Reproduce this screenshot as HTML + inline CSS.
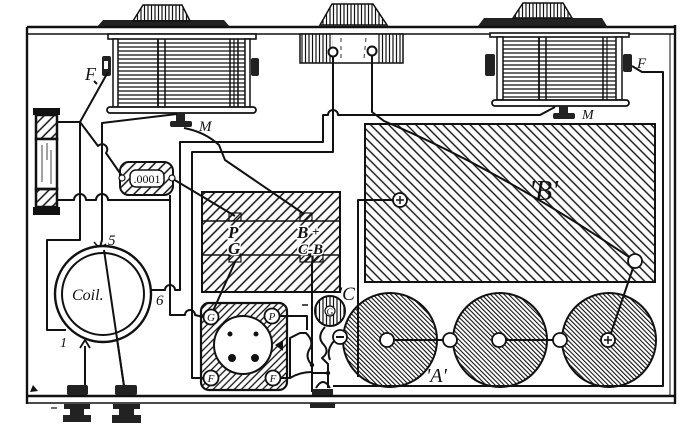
<!DOCTYPE html>
<html><head><meta charset="utf-8"><style>
html,body{margin:0;padding:0;background:#fff;}
svg{display:block;}
text{font-family:"Liberation Serif",serif;font-style:italic;fill:#111;}
</style></head><body>
<svg width="700" height="424" viewBox="0 0 700 424" xmlns="http://www.w3.org/2000/svg">
<defs>
<pattern id="hb" patternUnits="userSpaceOnUse" width="6.4" height="6.4" patternTransform="rotate(-45)"><line x1="1" y1="0" x2="1" y2="6.4" stroke="#111" stroke-width="1.4"/></pattern>
<pattern id="ha" patternUnits="userSpaceOnUse" width="3.2" height="3.2" patternTransform="rotate(-45)"><line x1="1" y1="0" x2="1" y2="3.2" stroke="#111" stroke-width="1.1"/></pattern>
<pattern id="hf" patternUnits="userSpaceOnUse" width="7" height="7" patternTransform="rotate(45)"><line x1="1" y1="0" x2="1" y2="7" stroke="#111" stroke-width="1.5"/></pattern>
<pattern id="hs" patternUnits="userSpaceOnUse" width="5" height="5" patternTransform="rotate(45)"><line x1="1" y1="0" x2="1" y2="5" stroke="#111" stroke-width="1.3"/></pattern>
<pattern id="hv" patternUnits="userSpaceOnUse" width="3.5" height="10"><line x1="1" y1="0" x2="1" y2="10" stroke="#111" stroke-width="1.2"/></pattern>
</defs>

<!-- top knobs -->
<polygon points="97,27 103,20 224,20 230,27" fill="#222"/>
<polygon points="133,21 143,5 182,5 190,21" fill="url(#hv)" stroke="#111" stroke-width="1.5"/>
<polygon points="320,25 332,4 373,4 387,25" fill="url(#hv)" stroke="#111" stroke-width="1.5"/>
<polygon points="478,26 484,18 602,18 607,26" fill="#222"/>
<polygon points="513,18 523,3 563,3 572,18" fill="url(#hv)" stroke="#111" stroke-width="1.5"/>

<!-- outer box -->
<g stroke="#111" fill="none">
<line x1="27" y1="27" x2="676" y2="27" stroke-width="2.4"/>
<line x1="27" y1="34" x2="676" y2="34" stroke-width="1.6"/>
<line x1="27" y1="27" x2="27" y2="404" stroke-width="2.4"/>
<line x1="675" y1="25" x2="675" y2="404" stroke-width="2.4"/>
<line x1="670" y1="34" x2="670" y2="396" stroke-width="1"/>
<line x1="27" y1="396" x2="676" y2="396" stroke-width="2.4"/>
<line x1="27" y1="403" x2="676" y2="403" stroke-width="1.6"/>
</g>

<!-- jack top center -->
<rect x="300" y="34" width="103" height="29" fill="#fff" stroke="#111" stroke-width="1.5"/>
<rect x="300" y="34" width="33" height="29" fill="url(#hv)"/>
<rect x="378" y="34" width="25" height="29" fill="url(#hv)"/>
<line x1="341" y1="38" x2="341" y2="58" stroke="#333" stroke-width="1" stroke-dasharray="4,4"/>
<line x1="366" y1="38" x2="364" y2="58" stroke="#333" stroke-width="1" stroke-dasharray="4,4"/>

<!-- left condenser -->
<g stroke="#111">
<rect x="108" y="34" width="148" height="5" fill="#fff" stroke-width="1.6"/>
<rect x="113" y="39" width="5" height="69" fill="#fff" stroke-width="1.5"/>
<rect x="245" y="39" width="5" height="69" fill="#fff" stroke-width="1.5"/>
<g stroke-width="1.2">
<line x1="118" y1="43" x2="245" y2="43"/><line x1="118" y1="47" x2="245" y2="47"/><line x1="118" y1="51" x2="245" y2="51"/><line x1="118" y1="55" x2="245" y2="55"/><line x1="118" y1="59" x2="245" y2="59"/><line x1="118" y1="63" x2="245" y2="63"/><line x1="118" y1="67" x2="245" y2="67"/><line x1="118" y1="71" x2="245" y2="71"/><line x1="118" y1="75" x2="245" y2="75"/><line x1="118" y1="79" x2="245" y2="79"/><line x1="118" y1="83" x2="245" y2="83"/><line x1="118" y1="87" x2="245" y2="87"/><line x1="118" y1="91" x2="245" y2="91"/><line x1="118" y1="95" x2="245" y2="95"/><line x1="118" y1="99" x2="245" y2="99"/><line x1="118" y1="103" x2="245" y2="103"/>
</g>
<line x1="158" y1="39" x2="158" y2="107" stroke-width="1.8"/>
<line x1="165" y1="39" x2="165" y2="107" stroke-width="1.5"/>
<line x1="230" y1="39" x2="230" y2="107" stroke-width="1.5"/>
<line x1="234" y1="39" x2="234" y2="107" stroke-width="1.2"/>
<line x1="238" y1="39" x2="238" y2="107" stroke-width="1.5"/>
<rect x="107" y="107" width="149" height="6" rx="3" fill="#fff" stroke-width="1.8"/>
</g>
<rect x="102" y="56" width="9" height="20" rx="2" fill="#222"/>
<rect x="104" y="61" width="4" height="8" fill="#fff"/>
<rect x="251" y="58" width="8" height="18" rx="2" fill="#222"/>
<rect x="176" y="113" width="9" height="8" fill="#222"/>
<rect x="170" y="121" width="22" height="6" rx="2" fill="#222"/>

<!-- right condenser -->
<g stroke="#111">
<rect x="490" y="33" width="139" height="4" fill="#fff" stroke-width="1.6"/>
<rect x="497" y="37" width="6" height="63" fill="#fff" stroke-width="1.5"/>
<rect x="616" y="37" width="6" height="63" fill="#fff" stroke-width="1.5"/>
<g stroke-width="1.2">
<line x1="503" y1="41" x2="616" y2="41"/><line x1="503" y1="45" x2="616" y2="45"/><line x1="503" y1="49" x2="616" y2="49"/><line x1="503" y1="53" x2="616" y2="53"/><line x1="503" y1="57" x2="616" y2="57"/><line x1="503" y1="61" x2="616" y2="61"/><line x1="503" y1="65" x2="616" y2="65"/><line x1="503" y1="69" x2="616" y2="69"/><line x1="503" y1="73" x2="616" y2="73"/><line x1="503" y1="77" x2="616" y2="77"/><line x1="503" y1="81" x2="616" y2="81"/><line x1="503" y1="85" x2="616" y2="85"/><line x1="503" y1="89" x2="616" y2="89"/><line x1="503" y1="93" x2="616" y2="93"/><line x1="503" y1="97" x2="616" y2="97"/>
</g>
<line x1="539" y1="37" x2="539" y2="100" stroke-width="1.8"/>
<line x1="546" y1="37" x2="546" y2="100" stroke-width="1.5"/>
<line x1="603" y1="37" x2="603" y2="100" stroke-width="1.5"/>
<line x1="607" y1="37" x2="607" y2="100" stroke-width="1.2"/>
<rect x="492" y="100" width="137" height="6" rx="3" fill="#fff" stroke-width="1.8"/>
</g>
<rect x="485" y="54" width="10" height="22" rx="2" fill="#222"/>
<rect x="623" y="54" width="9" height="18" rx="2" fill="#222"/>
<rect x="559" y="106" width="9" height="7" fill="#222"/>
<rect x="553" y="113" width="22" height="6" rx="2" fill="#222"/>

<!-- B battery -->
<rect x="365" y="124" width="290" height="158" fill="url(#hb)" stroke="#111" stroke-width="2"/>

<!-- transformer block -->
<rect x="202" y="192" width="138" height="100" fill="url(#hf)" stroke="#111" stroke-width="2"/>
<line x1="202" y1="221" x2="340" y2="221" stroke="#111" stroke-width="1.6"/>
<line x1="202" y1="255" x2="340" y2="255" stroke="#111" stroke-width="1.6"/>

<!-- A cells -->
<g stroke="#111" stroke-width="2">
<circle cx="390" cy="340" r="47" fill="url(#ha)"/>
<circle cx="500" cy="340" r="47" fill="url(#ha)"/>
<circle cx="609" cy="340" r="47" fill="url(#ha)"/>
</g>

<!-- wires -->
<g stroke="#111" stroke-width="2" fill="none" stroke-linejoin="round">
<path d="M108,72 L80,122"/>
<path d="M58,122 L80,122 L80,240 L47,240 L47,330 L66,330"/>
<path d="M80,122 L98,146 A5,5 0 0 1 106,153 L122,176"/>
<path d="M177,114 L102,123 L102,240 L100,247"/>
<path d="M58,200 L74,200 A6,6 0 0 1 86,200 L96,200 A6,6 0 0 1 108,200 L170,200"/>
<path d="M170,195 L170,315 L185,315 A5,5 0 0 1 195,315 L203,317"/>
<path d="M173,179 L235,216"/>
<path d="M152,290 L165,290 A5,5 0 0 1 175,290 L180,290 L180,142 L323,142 L323,115 L328,115 A5,5 0 0 1 338,115 L540,115 L555,107"/>
<path d="M333,56 L333,152 L192,152 L192,378 L203,378"/>
<path d="M372,56 L372,112 L384,121 Q500,170 629,257"/>
<path d="M184,128 Q205,132 219,145 L225,160 L304,214"/>
<path d="M213,311 L235,262"/>
<path d="M312,262 L312,392"/>
<path d="M393,200 L358,200 L358,377"/>
<path d="M632,66 L642,72 L663,72 L663,386 L333,386"/>
<path d="M633,268 L611,333"/>
<path d="M394,340 L443,340 M506,340 L553,340"/>
<path d="M85,386 L85,346"/>
<path d="M104,250 L124,386"/>
<path d="M279,316 L307,316 L307,330"/>
<path d="M280,378 L290,378 L290,338 L300,333 L306,333 Q315,342 309,350 Q305,358 312,365"/>
<path d="M290,378 Q300,372 312,372"/>
<path d="M325,327 Q316,337 324,345 Q330,352 322,358 L328,364 L328,388"/>
<path d="M334,341 Q326,350 330,360"/>
<path d="M312,373 L328,373"/>
<path d="M316,388 Q323,376 330,388"/>
</g>
<path d="M80,348 L85,340 L90,348" fill="none" stroke="#111" stroke-width="1.8"/>
<path d="M94,242 L100,249 L106,244" fill="none" stroke="#111" stroke-width="1.5"/>
<circle cx="312" cy="365" r="2.2" fill="#111"/>
<circle cx="328" cy="373" r="2.2" fill="#111"/>

<!-- jack circles -->
<circle cx="333" cy="52" r="4.5" fill="#fff" stroke="#111" stroke-width="2"/>
<circle cx="372" cy="51" r="4.5" fill="#fff" stroke="#111" stroke-width="2"/>

<!-- grid leak -->
<rect x="33" y="108" width="27" height="7" fill="#111"/>
<rect x="36" y="115" width="21" height="24" fill="url(#hf)" stroke="#111" stroke-width="2.5"/>
<rect x="36" y="139" width="21" height="50" fill="#fff" stroke="#111" stroke-width="2.5"/>
<g stroke="#444" stroke-width="1"><line x1="42" y1="145" x2="42" y2="182"/><line x1="47" y1="143" x2="47" y2="160"/><line x1="51" y1="150" x2="51" y2="184"/></g>
<rect x="36" y="189" width="21" height="18" fill="url(#hf)" stroke="#111" stroke-width="2.5"/>
<rect x="33" y="207" width="27" height="8" fill="#111"/>

<!-- .0001 capacitor -->
<rect x="120" y="162" width="53" height="33" rx="9" fill="url(#hf)" stroke="#111" stroke-width="2"/>
<rect x="130" y="170" width="34" height="17" rx="6" fill="#fff" stroke="#111" stroke-width="1.5"/>
<text x="147" y="183" font-size="12" text-anchor="middle" style="font-style:normal">.0001</text>
<circle cx="122" cy="178" r="3" fill="#fff" stroke="#111" stroke-width="1.2"/>
<circle cx="172" cy="178" r="3" fill="#fff" stroke="#111" stroke-width="1.2"/>

<!-- coil -->
<circle cx="103" cy="294" r="48" fill="#fff" stroke="#111" stroke-width="2.4"/>
<circle cx="103" cy="294" r="41" fill="none" stroke="#111" stroke-width="2"/>
<line x1="104" y1="250" x2="124" y2="386" stroke="#111" stroke-width="2"/>

<!-- tube socket -->
<rect x="201" y="303" width="86" height="87" rx="8" fill="url(#hs)" stroke="#111" stroke-width="2.2"/>
<circle cx="243" cy="345" r="29" fill="#fff" stroke="#111" stroke-width="2"/>
<circle cx="230" cy="334" r="2.5" fill="#111"/>
<circle cx="256" cy="334" r="2.5" fill="#111"/>
<circle cx="232" cy="358" r="4" fill="#111"/>
<circle cx="255" cy="358" r="4" fill="#111"/>
<polygon points="275,345 283,340 283,351" fill="#111"/>
<g stroke="#111" stroke-width="1.8" fill="#fff">
<circle cx="211" cy="317" r="7.5"/>
<circle cx="272" cy="316" r="7.5"/>
<circle cx="211" cy="378" r="7.5"/>
<circle cx="273" cy="378" r="7.5"/>
</g>
<g font-size="11" text-anchor="middle" style="font-style:normal;font-family:'Liberation Sans',sans-serif">
<text x="211" y="321">G</text><text x="272" y="320">P</text><text x="211" y="382">F</text><text x="273" y="382">F</text>
</g>

<!-- transformer terminals -->
<g fill="url(#hs)" stroke="#111" stroke-width="1.2">
<rect x="229" y="213" width="12" height="8"/>
<rect x="300" y="213" width="12" height="8"/>
<rect x="229" y="254" width="12" height="8"/>
<rect x="300" y="254" width="12" height="8"/>
<rect x="313" y="254" width="10" height="8"/>
</g>
<g font-size="17" font-weight="bold" stroke="#fff" stroke-width="3" paint-order="stroke">
<text x="228" y="238">P</text>
<text x="297" y="238">B</text>
<text x="312" y="236" font-size="13">+</text>
<text x="228" y="254">G</text>
<text x="298" y="254" font-size="15">C-B</text>
</g>

<!-- C battery -->
<circle cx="330" cy="311" r="15" fill="url(#hv)" stroke="#111" stroke-width="2"/>
<circle cx="330" cy="311" r="5" fill="#fff" stroke="#111" stroke-width="1.2"/>
<text x="330" y="315" font-size="9" text-anchor="middle" style="font-style:normal">G</text>
<circle cx="340" cy="337" r="7" fill="#fff" stroke="#111" stroke-width="1.8"/>
<line x1="336" y1="337" x2="344" y2="337" stroke="#111" stroke-width="2"/>
<line x1="302" y1="305" x2="308" y2="305" stroke="#111" stroke-width="1.5"/>

<!-- small circles -->
<g stroke="#111" stroke-width="1.8" fill="#fff">
<circle cx="400" cy="200" r="7"/>
<circle cx="635" cy="261" r="7"/>
<circle cx="387" cy="340" r="7"/>
<circle cx="450" cy="340" r="7"/>
<circle cx="499" cy="340" r="7"/>
<circle cx="560" cy="340" r="7"/>
<circle cx="608" cy="340" r="7"/>
</g>
<g stroke="#111" stroke-width="1.5">
<line x1="396" y1="200" x2="404" y2="200"/><line x1="400" y1="196" x2="400" y2="204"/>
<line x1="604" y1="340" x2="612" y2="340"/><line x1="608" y1="336" x2="608" y2="344"/>
</g>

<!-- bottom terminals -->
<g fill="#222">
<rect x="67" y="385" width="21" height="10" rx="2"/>
<rect x="115" y="385" width="22" height="10" rx="2"/>
<rect x="312" y="389" width="21" height="6"/>
<rect x="64" y="404" width="26" height="5"/>
<rect x="70" y="409" width="14" height="6"/>
<rect x="63" y="415" width="28" height="7"/>
<rect x="113" y="404" width="27" height="5"/>
<rect x="119" y="409" width="15" height="6"/>
<rect x="112" y="415" width="29" height="8"/>
<rect x="310" y="403" width="25" height="5"/>
</g>
<polygon points="30,392 33,385 38,391" fill="#111"/>
<line x1="51" y1="408" x2="57" y2="408" stroke="#111" stroke-width="1.2"/>

<!-- labels -->
<text x="85" y="80" font-size="18">F</text>
<line x1="94" y1="81" x2="97" y2="84" stroke="#111" stroke-width="2"/>
<text x="199" y="131" font-size="15">M</text>
<text x="637" y="68" font-size="15">F</text>
<text x="582" y="119" font-size="14">M</text>
<text x="529" y="200" font-size="28">'B'</text>
<text x="426" y="382" font-size="20">'A'</text>
<text x="338" y="300" font-size="19">'C'</text>
<text x="72" y="300" font-size="16">Coil.</text>
<text x="108" y="245" font-size="15">5</text>
<text x="156" y="305" font-size="15">6</text>
<text x="60" y="347" font-size="14">1</text>
</svg>
</body></html>
